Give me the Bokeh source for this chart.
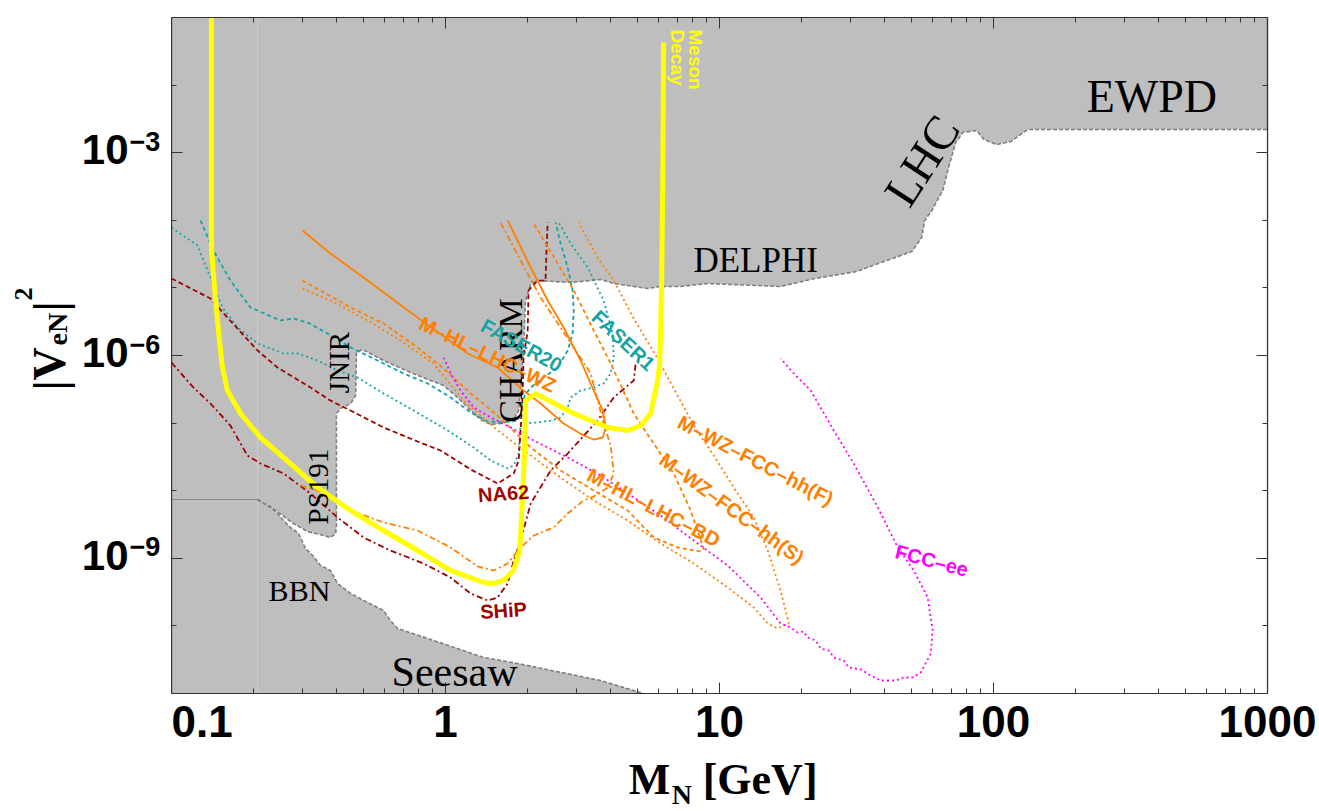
import numpy as np
from bokeh.plotting import figure
from bokeh.layouts import row, column
from bokeh.models import LogAxis, FixedTicker, CustomJSTickFormatter, Label, Range1d
from bokeh.embed import file_html
from bokeh.resources import INLINE

# ---------------- data: (log10 M_N [GeV], log10 |V_eN|^2) ----------------
x_major = [0.1, 1, 10, 100, 1000]
y_major_exp = [-3, -6, -9]

meson_decay = [(-0.854, -1.00), (-0.854, -4.447), (-0.839, -5.186), (-0.825, -5.778), (-0.814, -6.178),
               (-0.796, -6.518), (-0.748, -6.858), (-0.675, -7.213), (-0.566, -7.598), (-0.467, -7.953),
               (-0.346, -8.293), (-0.226, -8.589), (-0.102, -8.885), (0.018, -9.180), (0.139, -9.358),
               (0.175, -9.373), (0.212, -9.328), (0.248, -9.180), (0.271, -8.885), (0.281, -8.101),
               (0.289, -7.405), (0.292, -6.666), (0.329, -6.562), (0.384, -6.680), (0.468, -6.858),
               (0.592, -7.065), (0.665, -7.109), (0.712, -7.036), (0.749, -6.858), (0.774, -6.370),
               (0.782, -6.118), (0.789, -4.891), (0.793, -3.411), (0.796, -1.370)]

na62 = [(-1.000, -4.861), (-0.858, -5.157), (-0.796, -5.438), (-0.686, -5.926), (-0.613, -6.178),
        (-0.493, -6.473), (-0.420, -6.666), (-0.347, -6.814), (-0.226, -7.065), (-0.102, -7.272),
        (-0.018, -7.405), (0.092, -7.686), (0.190, -7.893), (0.249, -7.746), (0.267, -7.553),
        (0.274, -7.109), (0.281, -6.621), (0.285, -6.030), (0.300, -5.630), (0.303, -5.038),
        (0.336, -4.891), (0.365, -4.891), (0.369, -4.402), (0.373, -4.033)]

ship = [(-1.000, -6.104), (-0.920, -6.473), (-0.858, -6.710), (-0.785, -7.036), (-0.723, -7.479),
        (-0.675, -7.598), (-0.591, -7.746), (-0.493, -8.041), (-0.394, -8.396), (-0.299, -8.692),
        (-0.201, -8.885), (-0.080, -9.077), (0.018, -9.284), (0.092, -9.521), (0.154, -9.624),
        (0.190, -9.580), (0.227, -9.373), (0.249, -9.033), (0.274, -8.737), (0.311, -8.189),
        (0.384, -7.701), (0.446, -7.450), (0.555, -6.962), (0.614, -6.621), (0.687, -6.370),
        (0.694, -6.118)]

faser1 = [(-1.000, -4.107), (-0.905, -4.373), (-0.858, -4.846), (-0.814, -5.290), (-0.759, -5.586),
          (-0.686, -5.822), (-0.591, -5.970), (-0.540, -5.970), (-0.467, -6.074), (-0.394, -6.222),
          (-0.321, -6.325), (-0.226, -6.562), (-0.116, -6.814), (0.008, -7.109), (0.103, -7.361),
          (0.165, -7.553), (0.227, -7.672), (0.249, -7.627), (0.267, -7.450), (0.274, -7.006),
          (0.336, -6.991), (0.384, -6.962), (0.420, -6.917), (0.446, -6.769), (0.457, -6.621),
          (0.493, -6.518), (0.541, -6.473), (0.577, -6.414), (0.603, -6.266), (0.614, -6.030),
          (0.610, -5.675), (0.577, -5.186), (0.519, -4.698), (0.457, -4.343), (0.413, -4.033)]

faser20 = [(-0.894, -4.003), (-0.847, -4.447), (-0.785, -4.891), (-0.712, -5.290), (-0.602, -5.482),
           (-0.555, -5.453), (-0.503, -5.512), (-0.430, -5.675), (-0.346, -5.882), (-0.248, -6.074),
           (-0.153, -6.266), (-0.065, -6.414), (0.019, -6.621), (0.092, -6.843), (0.154, -6.976),
           (0.212, -6.991), (0.263, -6.962), (0.278, -6.814), (0.289, -6.592), (0.311, -6.473),
           (0.358, -6.325), (0.409, -6.178), (0.446, -5.926), (0.464, -5.675), (0.468, -5.334),
           (0.464, -5.038), (0.446, -4.698), (0.420, -4.343), (0.402, -4.033)]

hl_lhc_wz = [(-0.522, -4.151), (-0.420, -4.491), (-0.299, -4.846), (-0.102, -5.438), (0.081, -5.970),
             (0.190, -6.178), (0.285, -6.518), (0.347, -6.710), (0.431, -7.006), (0.504, -7.183),
             (0.541, -7.243), (0.574, -7.213), (0.585, -7.065), (0.574, -6.814), (0.541, -6.518),
             (0.493, -6.074), (0.431, -5.586), (0.373, -5.186), (0.311, -4.698), (0.227, -4.003)]

hl_lhc_bd_fcc_s = [(-0.522, -4.891), (-0.346, -5.290), (-0.226, -5.527), (-0.102, -5.882), (-0.007, -6.192),
                   (0.092, -6.562), (0.190, -6.888), (0.311, -7.361), (0.420, -7.701), (0.541, -7.997),
                   (0.665, -8.293), (0.760, -8.692), (0.847, -8.840), (0.931, -8.899), (0.942, -8.855),
                   (0.895, -8.293), (0.833, -7.746), (0.760, -7.302), (0.687, -6.858), (0.603, -6.118),
                   (0.541, -5.630), (0.468, -5.038), (0.409, -4.639), (0.322, -4.047)]

hl_lhc_bd_fcc_f = [(-0.522, -5.009), (-0.420, -5.186), (-0.284, -5.482), (-0.164, -5.778), (-0.044, -6.118),
                   (0.066, -6.666), (0.190, -7.109), (0.311, -7.479), (0.420, -7.805), (0.541, -8.145),
                   (0.665, -8.441), (0.785, -8.781), (0.906, -9.077), (1.030, -9.432), (1.125, -9.728),
                   (1.176, -9.964), (1.212, -10.038), (1.253, -9.964), (1.223, -9.476), (1.176, -8.885),
                   (1.125, -8.396), (1.052, -7.953), (0.986, -7.524), (0.913, -7.080), (0.847, -6.592),
                   (0.774, -6.044), (0.687, -5.453), (0.614, -4.891), (0.555, -4.550), (0.486, -4.033)]

hl_lhc_dd = [(-0.529, -7.923), (-0.467, -7.997), (-0.346, -8.293), (-0.226, -8.470), (-0.102, -8.589),
             (0.019, -8.840), (0.117, -9.121), (0.176, -9.180), (0.227, -9.077), (0.274, -8.840),
             (0.322, -8.663), (0.395, -8.544), (0.446, -8.337), (0.504, -8.145), (0.541, -8.086),
             (0.592, -7.953), (0.614, -7.746), (0.603, -7.331), (0.577, -7.006), (0.530, -6.266),
             (0.468, -5.882), (0.347, -5.142), (0.274, -4.595), (0.201, -4.033)]

fcc_ee = [(-0.007, -6.030), (0.019, -6.266), (0.055, -6.518), (0.103, -6.769), (0.165, -6.917),
          (0.238, -7.065), (0.322, -7.257), (0.446, -7.509), (0.566, -7.775), (0.665, -8.041),
          (0.785, -8.367), (0.906, -8.737), (1.030, -9.107), (1.150, -9.580), (1.223, -9.964),
          (1.260, -10.024), (1.285, -10.098), (1.307, -10.083), (1.322, -10.172), (1.351, -10.216),
          (1.369, -10.334), (1.399, -10.364), (1.417, -10.467), (1.453, -10.512), (1.472, -10.615),
          (1.516, -10.645), (1.552, -10.734), (1.589, -10.808), (1.643, -10.808), (1.672, -10.763),
          (1.705, -10.763), (1.735, -10.689), (1.771, -10.408), (1.778, -10.068), (1.760, -9.580),
          (1.709, -9.180), (1.651, -8.840), (1.578, -8.249), (1.490, -7.598), (1.417, -7.109),
          (1.333, -6.518), (1.271, -6.266), (1.223, -6.044)]

# boundary of the excluded (grey) region: upper edge PS191-JNIR-CHARM-DELPHI-LHC-EWPD
excl_upper = [(-0.686, -8.130), (-0.620, -8.293), (-0.555, -8.485), (-0.503, -8.604), (-0.445, -8.663),
              (-0.420, -8.692), (-0.401, -8.633), (-0.398, -8.515), (-0.398, -6.858), (-0.383, -6.784),
              (-0.346, -6.710), (-0.328, -6.592), (-0.325, -5.956), (-0.303, -5.911), (-0.226, -6.074),
              (-0.127, -6.251), (-0.054, -6.370), (-0.007, -6.444), (0.044, -6.621), (0.081, -6.769),
              (0.128, -6.947), (0.165, -7.021), (0.201, -7.006), (0.249, -6.947), (0.267, -6.814),
              (0.274, -6.473), (0.285, -5.882), (0.292, -5.186), (0.311, -4.950), (0.336, -4.891),
              (0.457, -4.920), (0.566, -4.876), (0.614, -4.935), (0.738, -5.009), (0.785, -4.979),
              (0.858, -4.979), (0.957, -4.935), (1.223, -4.979), (1.348, -4.861), (1.501, -4.757),
              (1.600, -4.609), (1.702, -4.462), (1.738, -4.254), (1.749, -4.003), (1.775, -3.855),
              (1.815, -3.559), (1.837, -3.204), (1.862, -2.849), (1.888, -2.701), (1.939, -2.672),
              (1.965, -2.805), (2.012, -2.879), (2.063, -2.834), (2.125, -2.657), (3.000, -2.657)]
# lower edge: BBN and seesaw
excl_lower = [(-0.686, -8.130), (-0.664, -8.189), (-0.639, -8.234), (-0.613, -8.337), (-0.591, -8.441),
              (-0.566, -8.544), (-0.536, -8.633), (-0.511, -8.855), (-0.485, -8.959), (-0.456, -9.107),
              (-0.420, -9.180), (-0.394, -9.373), (-0.346, -9.521), (-0.299, -9.624), (-0.226, -9.772),
              (-0.201, -9.920), (-0.175, -10.038), (-0.043, -10.216), (0.139, -10.467), (0.263, -10.556),
              (0.566, -10.808), (0.723, -11.000)]
bbn_edge = [(-1.000, -8.130), (-0.686, -8.130)]
faint_edge = [(-0.686, -1.0), (-0.686, -11.0)]


def xy(pts):
    a = np.array(pts, dtype=float)
    return (10.0 ** a[:, 0]).tolist(), (10.0 ** a[:, 1]).tolist()


SANS = "Liberation Sans"
SERIF = "Liberation Serif"

# ---------------- main figure ----------------
xr = Range1d(0.1, 1000)
yr = Range1d(1e-11, 1e-1)
p = figure(width=1148, height=755, x_axis_type="log", y_axis_type="log",
           x_range=xr, y_range=yr, output_backend="svg", toolbar_location=None,
           min_border_left=0, min_border_right=52, min_border_top=17, min_border_bottom=62)
p.background_fill_color = "#bebebe"
p.border_fill_color = "white"
p.outline_line_color = "#333333"
p.outline_line_width = 1.2
p.grid.visible = False

x_minor = [m * 10.0 ** e for e in range(-1, 3) for m in range(2, 10)]
y_major = [10.0 ** e for e in y_major_exp]
y_minor = [10.0 ** e for e in range(-11, 0)]
blank = CustomJSTickFormatter(code="return ''")


def style_axis(ax):
    ax.axis_line_color = "#333333"
    ax.axis_line_width = 1.2
    ax.major_tick_line_color = "#333333"
    ax.minor_tick_line_color = "#333333"
    ax.major_tick_in = 11
    ax.major_tick_out = 0
    ax.minor_tick_in = 5
    ax.minor_tick_out = 0


xa = p.xaxis[0]
xa.ticker = FixedTicker(ticks=x_major, minor_ticks=x_minor)
xa.formatter = CustomJSTickFormatter(code="return tick.toString()")
xa.major_label_text_font = SANS
xa.major_label_text_font_style = "bold"
xa.major_label_text_font_size = "44px"
xa.major_label_text_color = "black"
xa.major_label_standoff = 12
style_axis(xa)

ya = p.yaxis[0]
ya.ticker = FixedTicker(ticks=y_major, minor_ticks=y_minor)
ya.formatter = blank
ya.major_label_standoff = 0
style_axis(ya)

top = LogAxis(ticker=FixedTicker(ticks=x_major, minor_ticks=x_minor), formatter=blank, major_label_standoff=0)
style_axis(top)
p.add_layout(top, "above")
rgt = LogAxis(ticker=FixedTicker(ticks=y_major, minor_ticks=y_minor), formatter=blank, major_label_standoff=0)
style_axis(rgt)
p.add_layout(rgt, "right")

# excluded region
fx, fy = xy(faint_edge)
p.line(fx, fy, line_color="#cdcdcd", line_width=1)
ux, uy = xy(excl_upper)
lx, ly = xy(excl_lower)
p.patch(ux + [1000.0, lx[-1]] + lx[::-1], uy + [1e-11, 1e-11] + ly[::-1], fill_color="white", line_color=None)
bx, by = xy(bbn_edge)
p.line(bx, by, line_color="#8a8a8a", line_width=1.2)
p.line(ux, uy, line_color="#7f7f7f", line_width=1.6, line_dash="4 2")
p.line(lx, ly, line_color="#7f7f7f", line_width=1.6, line_dash="4 2")

ORANGE = "#ff8000"
DRED = "#a00000"
TEAL = "#16a3a3"
MAG = "#ff00ff"


def curve(pts, color, dash="solid", width=1.8):
    cx, cy = xy(pts)
    p.line(cx, cy, line_color=color, line_width=width, line_dash=dash)


curve(faser1, TEAL, "2 3")
curve(faser20, TEAL, "4 3")
curve(na62, DRED, "5 3")
curve(ship, DRED, "6 3 2 3")
curve(hl_lhc_wz, ORANGE, "solid")
curve(hl_lhc_bd_fcc_s, ORANGE, "4 3")
curve(hl_lhc_bd_fcc_f, ORANGE, "2 3")
curve(hl_lhc_dd, ORANGE, "6 3 2 3")
curve(fcc_ee, MAG, "2 3")
curve(meson_decay, "#ffff00", "solid", 5)


def lab(fig, x, y, text, size, color="black", font=SERIF, style="normal",
        angle=0.0, align="center", baseline="middle"):
    fig.add_layout(Label(x=x, y=y, text=text, text_font_size=f"{size}px",
                         text_color=color, text_font=font, text_font_style=style, angle=angle,
                         text_align=align, text_baseline=baseline))


def labm(lm, lv, text, size, *a, **k):
    lab(p, 10.0 ** lm, 10.0 ** lv, text, size, *a, **k)


labm(2.578, -2.169, "EWPD", 46)
labm(1.738, -3.115, "LHC", 48, angle=np.radians(57))
labm(1.132, -4.595, "DELPHI", 35)
labm(0.238, -6.074, "CHARM", 34, angle=np.pi / 2)
labm(-0.390, -6.104, "JNIR", 29, angle=np.pi / 2)
labm(-0.467, -7.938, "PS191", 29, angle=np.pi / 2)
labm(-0.533, -9.476, "BBN", 30)
labm(0.033, -10.689, "Seesaw", 42)

labm(0.913, -1.178, "Meson", 19, "#ffff00", SANS, "bold", -np.pi / 2, "left", "middle")
labm(0.847, -1.178, "Decay", 19, "#ffff00", SANS, "bold", -np.pi / 2, "left", "middle")
labm(0.212, -8.041, "NA62", 20, DRED, SANS, "bold", 0.07)
labm(0.212, -9.772, "SHiP", 20, DRED, SANS, "bold", 0.07)
labm(0.278, -5.852, "FASER20", 20, TEAL, SANS, "bold", -0.5)
labm(0.650, -5.778, "FASER1", 20, TEAL, SANS, "bold", -0.75)
labm(0.154, -5.985, "M–HL–LHC–WZ", 20, ORANGE, SANS, "bold", -0.45)
labm(1.132, -7.553, "M–WZ–FCC–hh(F)", 20, ORANGE, SANS, "bold", -0.48)
labm(1.045, -8.263, "M–WZ–FCC–hh(S)", 20, ORANGE, SANS, "bold", -0.63)
labm(0.760, -8.249, "M–HL–LHC–BD", 20, ORANGE, SANS, "bold", -0.48)
labm(1.775, -9.033, "FCC–ee", 20, MAG, SANS, "bold", -0.26)

# ---------------- left strip: y tick labels and y title (shares the log y scale) ----------------
yl = figure(width=171, height=811, y_axis_type="log", y_range=yr, x_range=Range1d(0, 171), title=None,
            x_axis_location=None, y_axis_location=None, output_backend="svg", toolbar_location=None,
            min_border_left=0, min_border_right=0, min_border_top=17, min_border_bottom=118)
yl.outline_line_color = None
yl.background_fill_color = "white"
yl.border_fill_color = "white"
yl.xgrid.visible = False
yl.ygrid.visible = False

for e in y_major_exp:
    lab(yl, 128, 10.0 ** (e + 0.044), "10", 42, "black", SANS, "bold", 0.0, "right", "middle")
    lab(yl, 129, 10.0 ** (e + 0.170), f"−{-e}", 27, "black", SANS, "bold", 0.0, "left", "middle")

lab(yl, 49, 10.0 ** -6.518, "|V", 46, style="bold", angle=np.pi / 2, align="left", baseline="middle")
lab(yl, 57, 10.0 ** -5.852, "eN", 28, style="bold", angle=np.pi / 2, align="left", baseline="middle")
lab(yl, 49, 10.0 ** -5.349, "|", 46, style="bold", angle=np.pi / 2, align="left", baseline="middle")
lab(yl, 23, 10.0 ** -5.186, "2", 26, style="bold", angle=np.pi / 2, align="left", baseline="middle")

# ---------------- bottom strip: x title (shares the log x scale) ----------------
xl = figure(width=1148, height=56, x_axis_type="log", x_range=xr, y_range=Range1d(0, 56), title=None,
            x_axis_location=None, y_axis_location=None, output_backend="svg", toolbar_location=None,
            min_border_left=0, min_border_right=52, min_border_top=0, min_border_bottom=0)
xl.outline_line_color = None
xl.background_fill_color = "white"
xl.border_fill_color = "white"
xl.xgrid.visible = False
xl.ygrid.visible = False

lab(xl, 10.0 ** 0.6685, 32, "M", 44, style="bold", align="left", baseline="middle")
lab(xl, 10.0 ** 0.8255, 17, "N", 28, style="bold", align="left", baseline="middle")
lab(xl, 10.0 ** 0.9387, 32, "[GeV]", 44, style="bold", align="left", baseline="middle")

layout = row(yl, column(p, xl, spacing=0), spacing=0)
open("out.html", "w").write(file_html(layout, INLINE))
